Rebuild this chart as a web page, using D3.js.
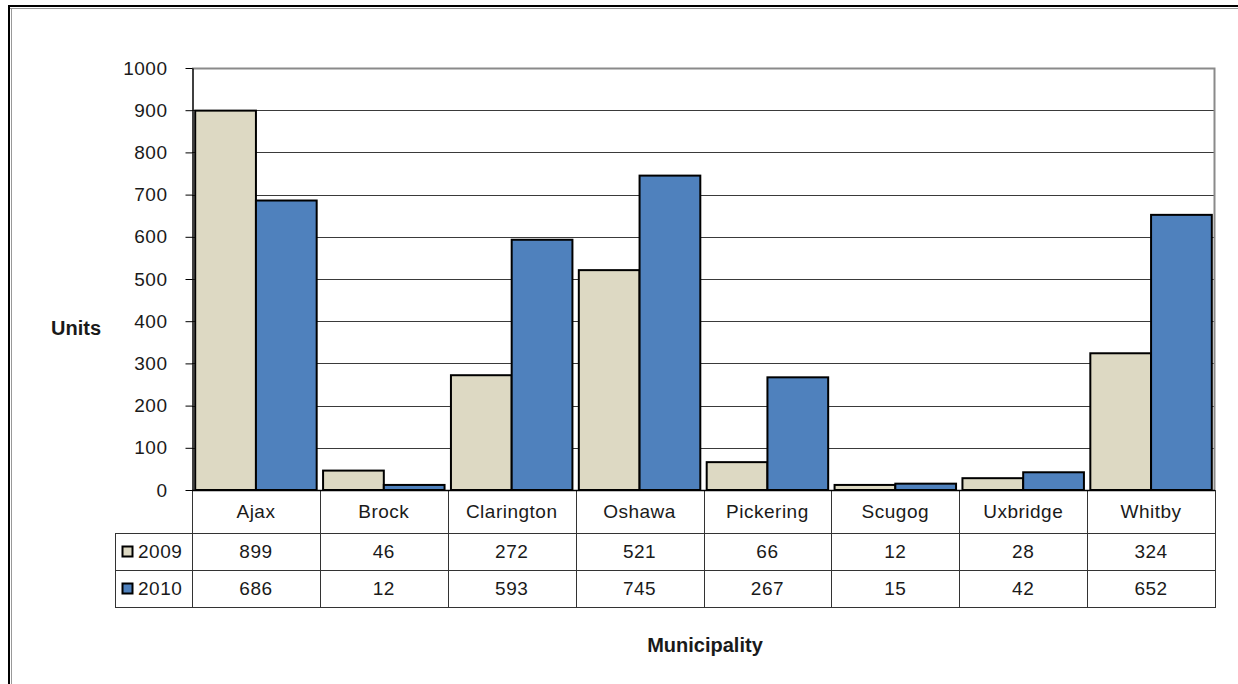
<!DOCTYPE html>
<html>
<head>
<meta charset="utf-8">
<script src="https://cdn.jsdelivr.net/npm/d3@7"></script>
<style>
  html, body { margin: 0; padding: 0; background: #fff; }
  svg { display: block; font-family: "Liberation Sans", Arial, sans-serif; }
</style>
</head>
<body>
<svg id="chart" width="1238" height="684"></svg>
<script>
// Housing units by municipality, 2009 vs 2010
const municipalities = ["Ajax", "Brock", "Clarington", "Oshawa", "Pickering", "Scugog", "Uxbridge", "Whitby"];
const years = ["2009", "2010"];
const units2009 = [899, 46, 272, 521, 66, 12, 28, 324];
const units2010 = [686, 12, 593, 745, 267, 15, 42, 652];
const yTicks = [0, 100, 200, 300, 400, 500, 600, 700, 800, 900, 1000];
const yearColors = ["#DDD9C3", "#4F81BD"];

const seriesValues = [units2009, units2010];
const textColor = "#1a1a1a";
const textSpacing = "0.5px";

const svg = d3.select("#chart");

// Outer frame (top and left edges, doubled)
const frame = svg.append("g");
frame.append("line").attr("x1", 8).attr("x2", 1238).attr("y1", 6).attr("y2", 6)
  .attr("stroke", "#000").attr("stroke-width", 2);
frame.append("line").attr("x1", 8).attr("x2", 1238).attr("y1", 8.5).attr("y2", 8.5)
  .attr("stroke", "#999").attr("stroke-width", 1);
frame.append("line").attr("x1", 9).attr("x2", 9).attr("y1", 5).attr("y2", 684)
  .attr("stroke", "#000").attr("stroke-width", 2);
frame.append("line").attr("x1", 11.5).attr("x2", 11.5).attr("y1", 8).attr("y2", 684)
  .attr("stroke", "#999").attr("stroke-width", 1);

const plot = { left: 192, right: 1215, top: 68, bottom: 490 };

const x = d3.scaleBand().domain(municipalities).range([plot.left, plot.right]).padding(0);
const bw = x.bandwidth();
const xSub = d3.scaleBand().domain(years).range([bw * 0.025, bw * 0.975]).padding(0);
const y = d3.scaleLinear().domain([0, 1000]).range([plot.bottom, plot.top]);

// Horizontal gridlines
svg.append("g")
  .selectAll("line")
  .data(yTicks.filter(d => d > 0 && d < 1000))
  .join("line")
  .attr("x1", plot.left).attr("x2", plot.right)
  .attr("y1", d => Math.round(y(d)) + 0.5).attr("y2", d => Math.round(y(d)) + 0.5)
  .attr("stroke", "#3a3a3a").attr("stroke-width", 1);

// Plot area border (top and right)
svg.append("path")
  .attr("d", `M${plot.left},${plot.top + 0.5}H${plot.right - 0.5}V${plot.bottom}`)
  .attr("fill", "none").attr("stroke", "#8a8a8a").attr("stroke-width", 2);

// Bars
const groups = svg.append("g")
  .selectAll("g")
  .data(municipalities)
  .join("g")
  .attr("transform", d => `translate(${x(d)},0)`);

groups.selectAll("rect")
  .data((d, i) => years.map((yr, s) => ({ yr, s, v: seriesValues[s][i] })))
  .join("rect")
  .attr("x", d => xSub(d.yr))
  .attr("width", xSub.bandwidth())
  .attr("y", d => y(d.v))
  .attr("height", d => y(0) - y(d.v))
  .attr("fill", d => yearColors[d.s])
  .attr("stroke", "#000")
  .attr("stroke-width", 2);

// Y axis
const yAxis = d3.axisLeft(y).tickValues(yTicks).tickFormat(d3.format("d"))
  .tickSize(7).tickPadding(18).tickSizeOuter(0);
const yAxisG = svg.append("g")
  .attr("transform", `translate(${plot.left + 0.5},0)`)
  .call(yAxis);
yAxisG.select(".domain").attr("stroke", "#000").attr("stroke-width", 1.5);
yAxisG.selectAll(".tick line").attr("stroke", "#000");
yAxisG.selectAll(".tick text")
  .attr("font-size", 19).attr("fill", textColor).attr("letter-spacing", textSpacing)
  .attr("font-family", "Liberation Sans, Arial, sans-serif");

// Data table below the plot
const rowTop = [490, 533, 570];
const rowBottom = 607;
const tableLeft = 115;
const table = svg.append("g");
const tableStroke = "#333";

// category row: vertical dividers
table.selectAll("line.v")
  .data(municipalities.map(m => x(m)).concat([plot.right]))
  .join("line")
  .attr("class", "v")
  .attr("x1", d => Math.round(d) + 0.5).attr("x2", d => Math.round(d) + 0.5)
  .attr("y1", rowTop[0]).attr("y2", rowBottom)
  .attr("stroke", tableStroke).attr("stroke-width", 1);

// horizontal rules
table.selectAll("line.h")
  .data([rowTop[1], rowTop[2], rowBottom])
  .join("line")
  .attr("class", "h")
  .attr("x1", tableLeft).attr("x2", plot.right + 1)
  .attr("y1", d => d + 0.5).attr("y2", d => d + 0.5)
  .attr("stroke", tableStroke).attr("stroke-width", 1);

table.append("line")
  .attr("x1", tableLeft + 0.5).attr("x2", tableLeft + 0.5)
  .attr("y1", rowTop[1]).attr("y2", rowBottom + 1)
  .attr("stroke", tableStroke).attr("stroke-width", 1);

// x axis line across the plot bottom
svg.append("line")
  .attr("x1", plot.left).attr("x2", plot.right)
  .attr("y1", plot.bottom + 0.5).attr("y2", plot.bottom + 0.5)
  .attr("stroke", "#000").attr("stroke-width", 1.5);

// category labels
table.selectAll("text.cat")
  .data(municipalities)
  .join("text")
  .attr("class", "cat")
  .attr("x", d => x(d) + bw / 2)
  .attr("y", (rowTop[0] + rowTop[1]) / 2)
  .attr("dy", "0.36em")
  .attr("text-anchor", "middle")
  .attr("font-size", 19).attr("fill", textColor).attr("letter-spacing", textSpacing)
  .text(d => d);

// value rows with legend keys
years.forEach((yr, s) => {
  const top = rowTop[s + 1];
  const bot = s === 0 ? rowTop[2] : rowBottom;
  const cy = (top + bot) / 2;
  table.append("rect")
    .attr("x", 122.5).attr("y", cy - 5)
    .attr("width", 10).attr("height", 10)
    .attr("fill", yearColors[s]).attr("stroke", "#000").attr("stroke-width", 2);
  table.append("text")
    .attr("x", 138).attr("y", cy).attr("dy", "0.36em")
    .attr("font-size", 19).attr("fill", textColor).attr("letter-spacing", textSpacing)
    .text(yr);
  table.selectAll(`text.val${s}`)
    .data(seriesValues[s])
    .join("text")
    .attr("class", `val${s}`)
    .attr("x", (d, i) => x(municipalities[i]) + bw / 2)
    .attr("y", cy).attr("dy", "0.36em")
    .attr("text-anchor", "middle")
    .attr("font-size", 19).attr("fill", textColor).attr("letter-spacing", textSpacing)
    .text(d => d);
});

// Axis titles
svg.append("text")
  .attr("x", 76).attr("y", 328).attr("dy", "0.36em")
  .attr("text-anchor", "middle")
  .attr("font-size", 20).attr("font-weight", "bold").attr("fill", textColor)
  .text("Units");

svg.append("text")
  .attr("x", 705).attr("y", 645).attr("dy", "0.36em")
  .attr("text-anchor", "middle")
  .attr("font-size", 20).attr("font-weight", "bold").attr("fill", textColor)
  .text("Municipality");
</script>
</body>
</html>
